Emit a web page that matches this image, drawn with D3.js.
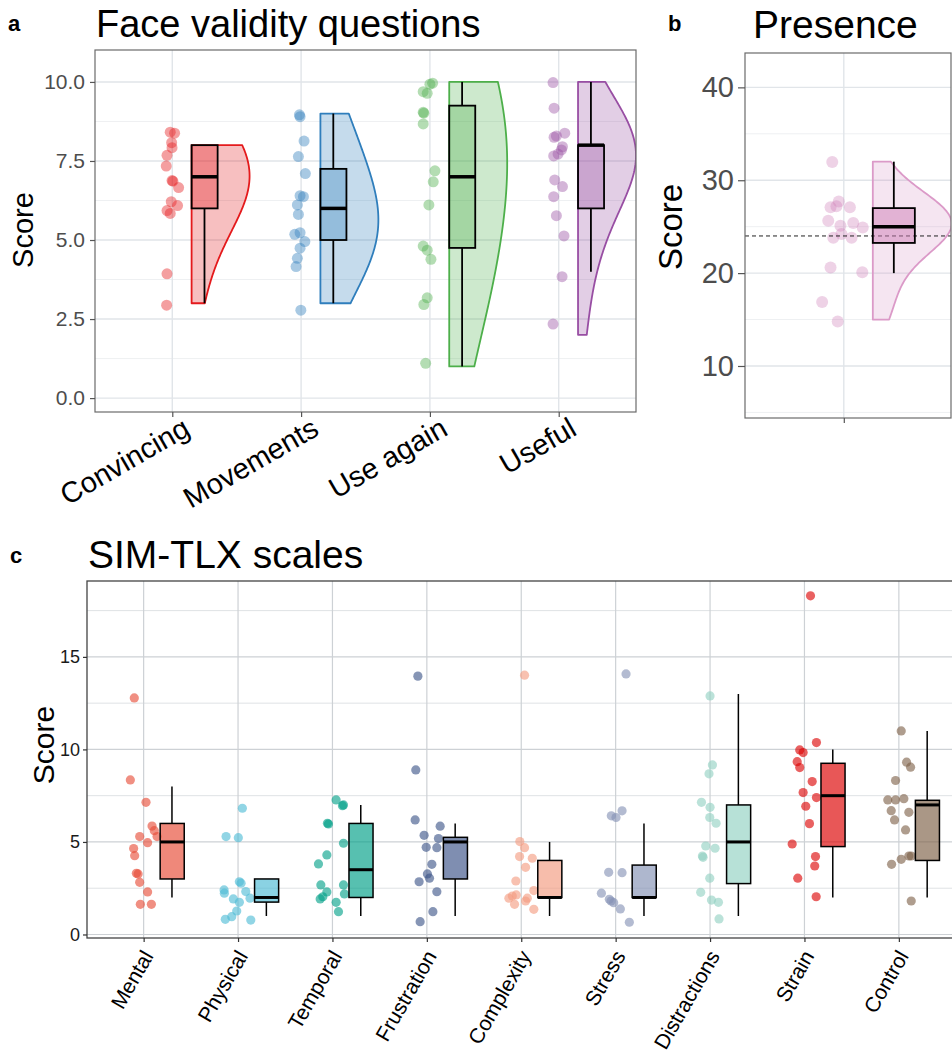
<!DOCTYPE html>
<html><head><meta charset="utf-8">
<script src="https://cdn.jsdelivr.net/npm/d3@7"></script>
<style>
body{margin:0;background:#fff}
svg{display:block}
text{font-family:"Liberation Sans",Arial,Helvetica,sans-serif}
</style>
</head><body>
<svg id="chart" width="952" height="1058"></svg>
<script>
// ---------------- DATA ----------------
// Panel a: Face validity questions
const faceCategories = ["Convincing", "Movements", "Use again", "Useful"];
const faceColors = ["#E41A1C", "#2F7EBC", "#4DAF4A", "#984EA3"];
const convincingScores = [8.41, 8.38, 8.08, 7.92, 7.68, 7.34, 6.88, 6.86, 6.66, 6.21, 6.09, 5.93, 5.84, 3.93, 2.94];
const convincingJitter = [-0.016, 0.018, -0.005, -0.002, -0.041, -0.047, -0.002, 0.005, 0.049, -0.008, 0.041, -0.041, -0.016, -0.041, -0.044];
const movementsScores = [8.96, 8.90, 8.13, 7.64, 7.10, 6.40, 6.37, 6.11, 5.81, 5.18, 5.23, 4.95, 4.74, 4.42, 4.16, 2.78];
const movementsJitter = [-0.013, -0.008, 0.023, -0.021, 0.033, -0.008, 0.018, -0.029, -0.021, -0.049, -0.008, 0.029, -0.008, -0.029, -0.039, -0.002];
const useAgainScores = [9.96, 9.93, 9.69, 9.64, 9.04, 9.01, 8.67, 7.19, 6.84, 6.11, 4.81, 4.68, 4.39, 3.17, 2.96, 1.10];
const useAgainJitter = [0.021, 0, -0.052, -0.021, -0.052, -0.047, -0.052, 0.039, 0.026, -0.008, -0.052, -0.021, 0.008, -0.021, -0.047, -0.033];
const usefulScores = [9.98, 9.17, 8.38, 8.29, 8.25, 7.95, 7.85, 7.72, 7.66, 6.90, 6.69, 6.37, 5.77, 5.13, 3.84, 2.34];
const usefulJitter = [-0.044, -0.036, 0.047, -0.018, -0.036, 0.029, 0.021, -0.005, -0.039, -0.031, 0.029, -0.039, -0.018, 0.041, 0.026, -0.044];
const faceQ1 = [6, 5, 4.75, 6];
const faceMedian = [7, 6, 7, 8];
const faceQ3 = [8, 7.25, 9.25, 8];
const faceWhiskerLow = [3, 3, 1, 4];
const faceWhiskerHigh = [8, 9, 10, 10];
const faceTicks = [0, 2.5, 5, 7.5, 10];

// Panel b: Presence
const presenceColor = "#CF7FB7";
const presenceScores = [31.97, 27.7, 27.1, 27.2, 27.1, 25.65, 25.1, 25.4, 24.9, 24.2, 23.8, 23.8, 20.6, 20.1, 16.9, 14.8];
const presenceJitter = [-0.055, -0.024, -0.063, -0.035, 0.029, -0.074, -0.016, 0.045, 0.090, -0.011, -0.050, 0.037, -0.063, 0.088, -0.103, -0.029];
const presenceBox = {q1: 23.25, median: 25, q3: 27, low: 20, high: 32};
const presenceReference = 24;
const presenceTicks = [10, 20, 30, 40];

// Panel c: SIM-TLX scales
const tlxCategories = ["Mental", "Physical", "Temporal", "Frustration", "Complexity", "Stress", "Distractions", "Strain", "Control"];
const tlxColors = ["#E64B35", "#4DBBD5", "#00A087", "#3C5488", "#F39B7F", "#8491B4", "#91D1C2", "#DC0000", "#7E6148"];
const mentalScores = [12.78, 8.35, 7.14, 5.86, 5.61, 5.29, 5.29, 4.96, 4.64, 4.26, 3.31, 3.27, 2.82, 2.30, 1.63, 1.63];
const mentalJitter = [-0.099, -0.141, 0.025, 0.089, 0.113, -0.042, 0.142, 0.042, -0.106, -0.095, -0.077, -0.059, -0.042, 0.042, -0.035, 0.082];
const physicalScores = [6.82, 5.29, 5.23, 2.85, 2.77, 2.41, 2.23, 2.32, 1.92, 1.74, 1.96, 1.27, 0.96, 0.82, 0.78];
const physicalJitter = [0.046, -0.127, 0.003, 0.014, 0.032, -0.148, -0.145, 0.082, -0.050, 0.014, 0.127, -0.014, -0.067, -0.135, 0.135];
const temporalScores = [7.27, 7.0, 6.96, 6.01, 5.97, 4.93, 4.30, 3.81, 2.68, 2.68, 2.30, 2.19, 1.92, 2.04, 1.74, 1.23];
const temporalJitter = [0.039, 0.117, 0.106, -0.053, -0.042, 0.117, -0.059, -0.148, -0.123, 0.117, -0.059, 0.127, -0.130, -0.102, 0.039, 0.064];
const frustrationScores = [13.96, 8.89, 6.19, 5.85, 5.36, 5.18, 4.71, 4.69, 3.79, 3.27, 3.04, 2.85, 2.31, 1.23, 0.69];
const frustrationJitter = [-0.095, -0.117, -0.124, 0.141, -0.029, 0.123, -0.007, 0.106, 0.053, 0.006, 0.028, -0.082, 0.106, 0.064, -0.071];
const complexityScores = [14.01, 5.02, 4.69, 4.21, 4.12, 3.63, 2.89, 2.37, 2.08, 2.14, 1.96, 1.63, 1.81, 1.96, 1.36];
const complexityJitter = [0.035, -0.015, 0.035, -0.018, 0.117, 0.046, -0.057, 0.133, -0.095, -0.053, -0.131, -0.071, 0.046, 0.064, 0.133];
const stressScores = [14.08, 6.68, 6.41, 6.32, 3.36, 3.34, 2.23, 1.90, 1.81, 1.72, 1.38, 0.66];
const stressJitter = [0.110, 0.068, -0.046, 0.004, -0.074, 0.068, -0.151, -0.067, -0.049, -0.021, 0.050, 0.145];
const distractionsScores = [12.89, 9.16, 8.68, 7.14, 6.87, 6.32, 6.01, 4.78, 4.66, 4.24, 4.17, 3.04, 2.28, 1.86, 1.74, 0.84];
const distractionsJitter = [0, 0.025, -0.011, -0.091, 0, -0.003, 0.064, -0.046, 0.053, -0.081, -0.074, -0.003, -0.099, 0.015, 0.089, 0.095];
const strainScores = [18.30, 10.37, 9.97, 9.83, 9.34, 9.02, 8.26, 7.67, 7.40, 6.93, 5.99, 4.89, 4.21, 3.70, 3.04, 2.04];
const strainJitter = [0.064, 0.127, -0.050, -0.014, -0.077, -0.050, 0.082, -0.014, 0.127, 0.014, 0.053, -0.130, 0.117, 0.109, -0.071, 0.124];
const controlScores = [11.0, 9.31, 9.04, 8.32, 7.27, 7.27, 7.34, 6.69, 6.60, 6.19, 5.65, 4.24, 4.24, 4.06, 3.79, 1.81];
const controlJitter = [0.025, 0.082, 0.124, -0.035, -0.117, -0.035, 0.053, -0.081, 0.106, -0.046, 0.071, 0.106, 0.131, 0.025, -0.077, 0.131];
const tlxQ1 = [3, 1.75, 2, 3, 2, 2, 2.75, 4.75, 4];
const tlxMedian = [5, 2, 3.5, 5, 2, 2, 5, 7.5, 7];
const tlxQ3 = [6, 3, 6, 5.25, 4, 3.75, 7, 9.25, 7.25];
const tlxWhiskerLow = [2, 1, 1, 1, 1, 1, 1, 2, 2];
const tlxWhiskerHigh = [8, 3, 7, 6, 5, 6, 13, 10, 11];
const tlxTicks = [0, 5, 10, 15];

const faceScores = [convincingScores, movementsScores, useAgainScores, usefulScores];
const faceJitters = [convincingJitter, movementsJitter, useAgainJitter, usefulJitter];
const tlxScores = [mentalScores, physicalScores, temporalScores, frustrationScores, complexityScores, stressScores, distractionsScores, strainScores, controlScores];
const tlxJitters = [mentalJitter, physicalJitter, temporalJitter, frustrationJitter, complexityJitter, stressJitter, distractionsJitter, strainJitter, controlJitter];

// ---------------- HELPERS ----------------
const svg = d3.select("#chart");
const FONT = '"Liberation Sans", Arial, Helvetica, sans-serif';
const BW_ADJUST = 2;

function density(values) {
  const raw = values.map(v => Math.round(v)).sort(d3.ascending);
  const lo = raw[0], hi = raw[raw.length - 1];
  const sd = d3.deviation(raw);
  const iqr = d3.quantile(raw, 0.75) - d3.quantile(raw, 0.25);
  const spread = iqr > 0 ? Math.min(sd, iqr / 1.34) : sd;
  const bw = BW_ADJUST * 0.9 * spread * Math.pow(raw.length, -0.2);
  const grid = d3.range(0, 121).map(i => lo + (hi - lo) * i / 120);
  return grid.map(g => [g, d3.mean(raw, r => Math.exp(-0.5 * ((g - r) / bw) ** 2))]);
}

function gridLines(g, x0, x1, y, values, color, width) {
  g.selectAll(null).data(values).join("line")
    .attr("x1", x0).attr("x2", x1)
    .attr("y1", d => y(d)).attr("y2", d => y(d))
    .attr("stroke", color).attr("stroke-width", width);
}
function vGridLines(g, y0, y1, x, values, color, width) {
  g.selectAll(null).data(values).join("line")
    .attr("y1", y0).attr("y2", y1)
    .attr("x1", d => x(d)).attr("x2", d => x(d))
    .attr("stroke", color).attr("stroke-width", width);
}

function drawBox(g, x, y, pos, left, right, mid, q1, med, q3, lo, hi, fill, fillOpacity, sw, mw) {
  g.append("line").attr("x1", x(pos + mid)).attr("x2", x(pos + mid))
    .attr("y1", y(lo)).attr("y2", y(q1)).attr("stroke", "#000").attr("stroke-width", sw);
  g.append("line").attr("x1", x(pos + mid)).attr("x2", x(pos + mid))
    .attr("y1", y(q3)).attr("y2", y(hi)).attr("stroke", "#000").attr("stroke-width", sw);
  g.append("rect").attr("x", x(pos + left)).attr("width", x(pos + right) - x(pos + left))
    .attr("y", y(q3)).attr("height", y(q1) - y(q3))
    .attr("fill", fill).attr("fill-opacity", fillOpacity)
    .attr("stroke", "#000").attr("stroke-width", sw);
  g.append("line").attr("x1", x(pos + left)).attr("x2", x(pos + right))
    .attr("y1", y(med)).attr("y2", y(med)).attr("stroke", "#000").attr("stroke-width", mw);
}

function drawViolin(g, x, y, pos, start, maxW, values, color, fillOpacity, strokeColor) {
  const dens = density(values);
  const w = d3.scaleLinear().domain([0, d3.max(dens, d => d[1])]).range([0, maxW]);
  const area = d3.area()
    .y(d => y(d[0]))
    .x0(x(pos + start))
    .x1(d => x(pos + start + w(d[1])))
    .curve(d3.curveLinear);
  g.append("path").datum(dens).attr("d", area)
    .attr("fill", color).attr("fill-opacity", fillOpacity)
    .attr("stroke", strokeColor || color).attr("stroke-width", 1.8)
    .attr("stroke-linejoin", "round");
}

function panelLabel(txt, x, y) {
  svg.append("text").attr("x", x).attr("y", y).text(txt)
    .attr("font-size", 22).attr("font-weight", "bold").attr("fill", "#000");
}
function title(txt, x, y, size) {
  svg.append("text").attr("x", x).attr("y", y).text(txt)
    .attr("font-size", size).attr("fill", "#000");
}
function yTitle(txt, x, y, size) {
  svg.append("text").attr("transform", `translate(${x},${y}) rotate(-90)`)
    .attr("text-anchor", "middle").attr("font-size", size).attr("fill", "#000").text(txt);
}

// ---------------- PANEL A ----------------
(function () {
  const L = 95, R = 636, T = 50, B = 412;
  const x = d3.scaleLinear().domain([0.4, faceCategories.length + 0.6]).range([L, R]);
  const y = d3.scaleLinear().domain([-0.44, 11.01]).range([B, T]);
  const g = svg.append("g");
  g.append("defs").append("clipPath").attr("id", "clipA").append("rect")
    .attr("x", L).attr("y", T).attr("width", R - L).attr("height", B - T);
  const minor = d3.range(1.25, 11, 2.5);
  gridLines(g, L, R, y, minor, "#eef0f2", 1);
  gridLines(g, L, R, y, faceTicks, "#e1e5e9", 1.4);
  vGridLines(g, T, B, x, d3.range(1, faceCategories.length + 1), "#e1e5e9", 1.4);

  const plot = g.append("g").attr("clip-path", "url(#clipA)");
  faceCategories.forEach((c, i) => {
    const pos = i + 1;
    drawViolin(plot, x, y, pos, 0.15, 0.45, faceScores[i], faceColors[i], 0.28);
    plot.selectAll(null).data(faceScores[i].map((v, k) => [faceJitters[i][k], v])).join("circle")
      .attr("cx", d => x(pos + d[0])).attr("cy", d => y(d[1])).attr("r", 5.5)
      .attr("fill", faceColors[i]).attr("fill-opacity", 0.42);
    drawBox(plot, x, y, pos, 0.15, 0.352, 0.25, faceQ1[i], faceMedian[i], faceQ3[i],
      faceWhiskerLow[i], faceWhiskerHigh[i], faceColors[i], 0.32, 1.8, 3.5);
  });
  g.append("rect").attr("x", L).attr("y", T).attr("width", R - L).attr("height", B - T)
    .attr("fill", "none").attr("stroke", "#6b6b6b").attr("stroke-width", 1.2);

  const yAxis = g.append("g").attr("transform", `translate(${L},0)`)
    .call(d3.axisLeft(y).tickValues(faceTicks).tickFormat(d3.format(".1f")).tickSize(5).tickPadding(5));
  yAxis.select(".domain").remove();
  yAxis.selectAll("line").attr("stroke", "#555").attr("stroke-width", 1.2);
  yAxis.selectAll("text").attr("font-size", 21).attr("fill", "#4d4d4d").attr("font-family", FONT);

  const xAxis = g.append("g").attr("transform", `translate(0,${B})`)
    .call(d3.axisBottom(x).tickValues(d3.range(1, faceCategories.length + 1))
      .tickFormat(d => faceCategories[d - 1]).tickSize(5));
  xAxis.select(".domain").remove();
  xAxis.selectAll("line").attr("stroke", "#555").attr("stroke-width", 1.2);
  xAxis.selectAll("text").attr("font-size", 29).attr("fill", "#000").attr("font-family", FONT)
    .attr("text-anchor", "end").attr("dy", null).attr("y", null)
    .attr("transform", "translate(19,22) rotate(-30)");

  panelLabel("a", 8, 31);
  title("Face validity questions", 96, 37, 38);
  yTitle("Score", 33, 230, 29);
})();

// ---------------- PANEL B ----------------
(function () {
  const L = 745, R = 951, T = 53, B = 418;
  const x = d3.scaleLinear().domain([0.53, 1.51]).range([L, R]);
  const y = d3.scaleLinear().domain([4.4, 43.7]).range([B, T]);
  const g = svg.append("g");
  g.append("defs").append("clipPath").attr("id", "clipB").append("rect")
    .attr("x", L).attr("y", T).attr("width", R - L).attr("height", B - T);
  gridLines(g, L, R, y, [5, 15, 25, 35], "#eef0f2", 1);
  gridLines(g, L, R, y, presenceTicks, "#e1e5e9", 1.4);
  vGridLines(g, T, B, x, [1], "#e1e5e9", 1.4);

  const plot = g.append("g").attr("clip-path", "url(#clipB)");
  drawViolin(plot, x, y, 1, 0.138, 0.375, presenceScores, presenceColor, 0.2, "#DB9AC8");
  plot.selectAll(null).data(presenceScores.map((v, k) => [presenceJitter[k], v])).join("circle")
    .attr("cx", d => x(1 + d[0])).attr("cy", d => y(d[1])).attr("r", 6)
    .attr("fill", presenceColor).attr("fill-opacity", 0.35);
  plot.append("line").attr("x1", L).attr("x2", R)
    .attr("y1", y(presenceReference)).attr("y2", y(presenceReference))
    .attr("stroke", "#222").attr("stroke-width", 1).attr("stroke-dasharray", "4,3");
  drawBox(plot, x, y, 1, 0.138, 0.338, 0.238, presenceBox.q1, presenceBox.median, presenceBox.q3,
    presenceBox.low, presenceBox.high, presenceColor, 0.5, 1.8, 3.5);
  g.append("rect").attr("x", L).attr("y", T).attr("width", R - L).attr("height", B - T)
    .attr("fill", "none").attr("stroke", "#6b6b6b").attr("stroke-width", 1.2);

  const yAxis = g.append("g").attr("transform", `translate(${L},0)`)
    .call(d3.axisLeft(y).tickValues(presenceTicks).tickFormat(d3.format("d")).tickSize(7).tickPadding(4));
  yAxis.select(".domain").remove();
  yAxis.selectAll("line").attr("stroke", "#555").attr("stroke-width", 1.2);
  yAxis.selectAll("text").attr("font-size", 29).attr("fill", "#4d4d4d").attr("font-family", FONT);

  const xAxis = g.append("g").attr("transform", `translate(0,${B})`)
    .call(d3.axisBottom(x).tickValues([1]).tickFormat("").tickSize(5));
  xAxis.select(".domain").remove();
  xAxis.selectAll("line").attr("stroke", "#555").attr("stroke-width", 1.2);

  panelLabel("b", 668, 31);
  title("Presence", 753, 38, 39);
  yTitle("Score", 682, 227, 33);
})();

// ---------------- PANEL C ----------------
(function () {
  const L = 87, R = 955.5, T = 581, B = 938;
  const x = d3.scaleLinear().domain([0.4, tlxCategories.length + 0.6]).range([L, R]);
  const y = d3.scaleLinear().domain([-0.19, 19.1]).range([B, T]);
  const g = svg.append("g");
  g.append("defs").append("clipPath").attr("id", "clipC").append("rect")
    .attr("x", L).attr("y", T).attr("width", R - L).attr("height", B - T);
  gridLines(g, L, R, y, [2.5, 7.5, 12.5, 17.5], "#dfe2e5", 1);
  gridLines(g, L, R, y, tlxTicks, "#cdd1d5", 1.2);
  vGridLines(g, T, B, x, d3.range(1, tlxCategories.length + 1), "#cdd1d5", 1.2);

  const plot = g.append("g").attr("clip-path", "url(#clipC)");
  tlxCategories.forEach((c, i) => {
    const pos = i + 1;
    plot.selectAll(null).data(tlxScores[i].map((v, k) => [tlxJitters[i][k], v])).join("circle")
      .attr("cx", d => x(pos + d[0])).attr("cy", d => y(d[1])).attr("r", 4.6)
      .attr("fill", tlxColors[i]).attr("fill-opacity", 0.62);
    drawBox(plot, x, y, pos, 0.175, 0.43, 0.3, tlxQ1[i], tlxMedian[i], tlxQ3[i],
      tlxWhiskerLow[i], tlxWhiskerHigh[i], tlxColors[i], 0.66, 1.5, 3);
  });
  g.append("rect").attr("x", L).attr("y", T).attr("width", R - L).attr("height", B - T)
    .attr("fill", "none").attr("stroke", "#444").attr("stroke-width", 1.3);

  const yAxis = g.append("g").attr("transform", `translate(${L},0)`)
    .call(d3.axisLeft(y).tickValues(tlxTicks).tickFormat(d3.format("d")).tickSize(4).tickPadding(3));
  yAxis.select(".domain").remove();
  yAxis.selectAll("line").attr("stroke", "#333").attr("stroke-width", 1.2);
  yAxis.selectAll("text").attr("font-size", 18).attr("fill", "#1a1a1a").attr("font-family", FONT);

  const xAxis = g.append("g").attr("transform", `translate(0,${B})`)
    .call(d3.axisBottom(x).tickValues(d3.range(1, tlxCategories.length + 1))
      .tickFormat(d => tlxCategories[d - 1]).tickSize(4));
  xAxis.select(".domain").remove();
  xAxis.selectAll("line").attr("stroke", "#333").attr("stroke-width", 1.2);
  xAxis.selectAll("text").attr("font-size", 21).attr("fill", "#000").attr("font-family", FONT)
    .attr("text-anchor", "end").attr("dy", null).attr("y", null)
    .attr("transform", "translate(10,18) rotate(-60)");

  panelLabel("c", 10, 563);
  title("SIM-TLX scales", 88, 568, 39);
  yTitle("Score", 54, 745, 30);
})();
</script>
</body></html>
